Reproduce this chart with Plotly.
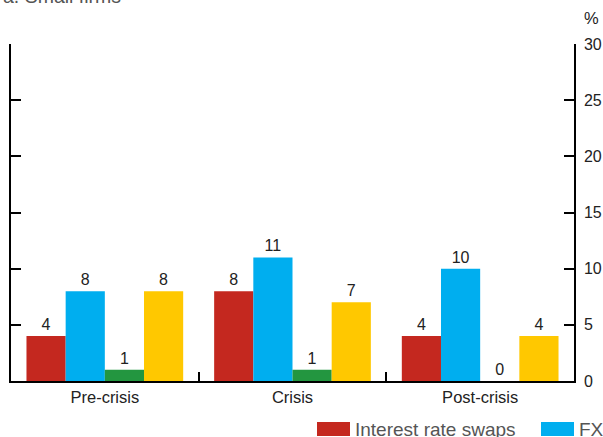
import plotly.graph_objects as go

categories = ["Pre-crisis", "Crisis", "Post-crisis"]
series_names = ["Interest rate swaps", "FX", "Commodities", "Other"]
irs = [4, 8, 4]
fx = [8, 11, 10]
commodities = [1, 1, 0]
other = [8, 7, 4]
series_values = [irs, fx, commodities, other]
colors = ["#C4281F", "#00AEEF", "#239640", "#FFC800"]
y_ticks = [0, 5, 10, 15, 20, 25, 30]

FONT = "Liberation Sans, Arial, sans-serif"

fig = go.Figure()
for name, vals, col in zip(series_names, series_values, colors):
    fig.add_trace(go.Bar(
        x=categories, y=vals, name=name, marker_color=col, marker_line_width=0,
        text=[str(v) for v in vals], textposition="outside",
        textfont=dict(family=FONT, size=16, color="#222"),
        cliponaxis=False, showlegend=False,
    ))
# invisible trace to drive right axis
fig.add_trace(go.Scatter(x=categories, y=[None]*3, yaxis="y2", showlegend=False, hoverinfo="skip"))

fig.update_layout(
    width=603, height=437,
    margin=dict(l=11, r=29, t=44, b=56, autoexpand=False),
    paper_bgcolor="white", plot_bgcolor="white",
    barmode="group", bargap=0.165, bargroupgap=0,
    font=dict(family=FONT, size=16, color="#222"),
    xaxis=dict(showline=True, linecolor="black", linewidth=2, ticks="inside", ticklen=9,
               tickwidth=1.5, tickcolor="black", tickson="boundaries", showgrid=False,
               automargin=False, tickfont=dict(family=FONT, size=16.5, color="#222")),
    yaxis=dict(range=[0, 30], tickvals=y_ticks, showticklabels=False, showline=True,
               linecolor="black", linewidth=1.5, ticks="inside", ticklen=10, tickwidth=1.5,
               tickcolor="black", showgrid=False, zeroline=False, automargin=False),
    yaxis2=dict(range=[0, 30], tickvals=y_ticks, overlaying="y", side="right", showline=True,
                linecolor="black", linewidth=1.5, ticks="inside", ticklen=10, tickwidth=1.5,
                tickcolor="black", showgrid=False, zeroline=False, ticklabelstandoff=5,
                automargin=False, tickfont=dict(family=FONT, size=16, color="#222")),
)

annotations = [
    dict(text="a. Small firms", x=(1 - 11) / 563, y=(381 + 4) / 337, xref="paper", yref="paper",
         xanchor="left", yanchor="middle", showarrow=False,
         font=dict(family=FONT, size=19.5, color="#555")),
    dict(text="%", x=(591 - 11) / 563, y=(381 - 18) / 337, xref="paper", yref="paper",
         xanchor="center", yanchor="middle", showarrow=False,
         font=dict(family=FONT, size=16.5, color="#222")),
]
shapes = []
# custom legend: two entries per row
leg_x = [317, 541]
for i, (name, col) in enumerate(zip(series_names, colors)):
    row, colidx = divmod(i, 2)
    px0 = leg_x[colidx]
    py_top = 422 + row * 22
    shapes.append(dict(type="rect", xref="paper", yref="paper",
                       x0=(px0 - 11) / 563, x1=(px0 + 33 - 11) / 563,
                       y0=(381 - py_top - 14) / 337, y1=(381 - py_top) / 337,
                       fillcolor=col, line_width=0))
    annotations.append(dict(text=name, x=(px0 + 36 - 11) / 563, y=(381 - py_top - 7) / 337,
                            xref="paper", yref="paper", xanchor="left", yanchor="middle",
                            showarrow=False, font=dict(family=FONT, size=19, color="#555")))
fig.update_layout(annotations=annotations, shapes=shapes)

fig.write_html("out.html")
